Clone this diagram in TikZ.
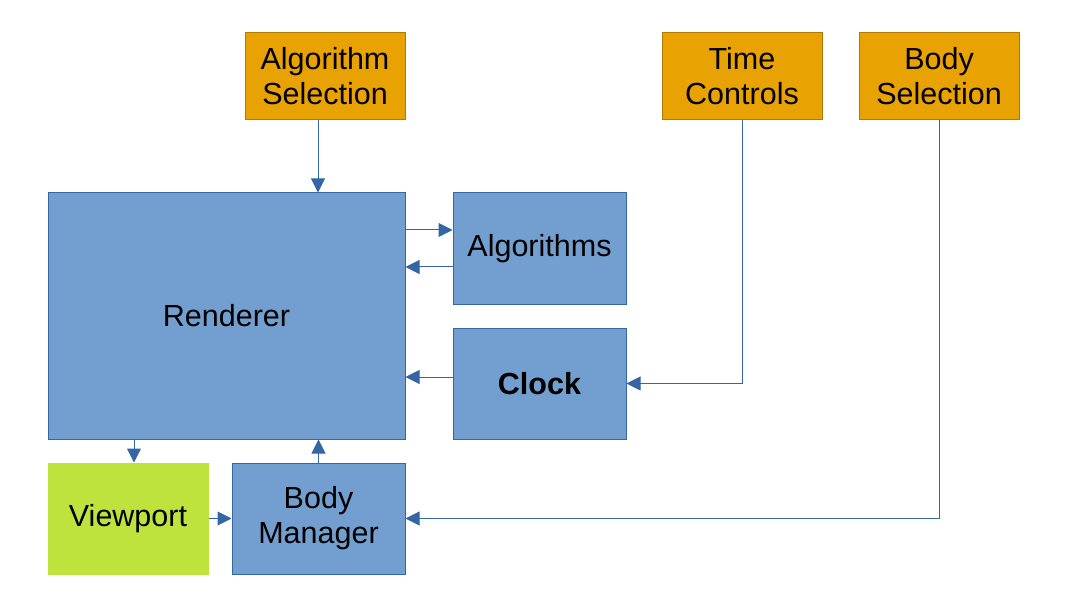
\documentclass[tikz,border=0pt]{standalone}
\usepackage{fontspec}
\setmainfont{Liberation Sans}
\usetikzlibrary{arrows.meta}
\definecolor{compfill}{HTML}{729FCF}
\definecolor{compline}{HTML}{3465A4}
\definecolor{ctrlfill}{HTML}{E8A202}
\definecolor{ctrlline}{HTML}{B47804}
\definecolor{viewfill}{HTML}{BDE33C}
\begin{document}
\begin{tikzpicture}[x=1pt,y=-1pt,>={Triangle[length=14pt,width=14pt]}]
    % styles
    \tikzset{box/.style={rectangle,draw,line width=1pt,inner sep=0pt,align=center,
        font=\fontsize{30.5}{35}\selectfont},
      comp/.style={box,fill=compfill,draw=compline},
      ctrl/.style={box,fill=ctrlfill,draw=ctrlline,minimum width=160pt,minimum height=87pt},
      view/.style={box,fill=viewfill,draw=viewfill,minimum width=160pt,minimum height=111pt},
      link/.style={->,draw=compline,line width=1pt}}
    \useasboundingbox (0,0) rectangle (1066,604);
    % controls
    \node[ctrl] (AlgSel)  at (325,76.5) {Algorithm\\Selection};
    \node[ctrl] (TimeCtl) at (742,76.5) {Time\\Controls};
    \node[ctrl] (BodySel) at (939,76.5) {Body\\Selection};
    % components
    \node[comp,minimum width=357pt,minimum height=246pt] (Renderer) at (226.5,316) {Renderer};
    \node[comp,minimum width=173pt,minimum height=111pt] (Algs) at (539.5,248.5) {Algorithms};
    \node[comp,minimum width=173pt,minimum height=111pt] (Clock) at (539.5,383.5) {\bfseries Clock};
    \node[view] (Viewport) at (128,518.5) {Viewport};
    \node[comp,minimum width=173pt,minimum height=111pt] (BodyMgr) at (318.5,518.5) {Body\\Manager};

    % connectors
    \draw[link] ([xshift=-7pt]AlgSel.south) -- ([xshift=-7pt]AlgSel.south |- Renderer.north);
    \draw[link] ([yshift=18.5pt]Algs.west -| Renderer.east) -- ([yshift=18.5pt]Algs.west);
    \draw[link] ([yshift=-18.5pt]Algs.west) -- ([yshift=-18.5pt]Algs.west -| Renderer.east);
    \draw[link] ([yshift=6.5pt]Clock.west) -- ([yshift=6.5pt]Clock.west -| Renderer.east);
    \draw[link] (TimeCtl.south) |- (Clock.east);
    \draw[link] (BodySel.south) |- (BodyMgr.east);
    \draw[link] ([xshift=6pt]Viewport.north |- Renderer.south) -- ([xshift=6pt]Viewport.north);
    \draw[link] (Viewport.east) -- (BodyMgr.west);
    \draw[link] (BodyMgr.north) -- (BodyMgr.north |- Renderer.south);
\end{tikzpicture}
\end{document}
